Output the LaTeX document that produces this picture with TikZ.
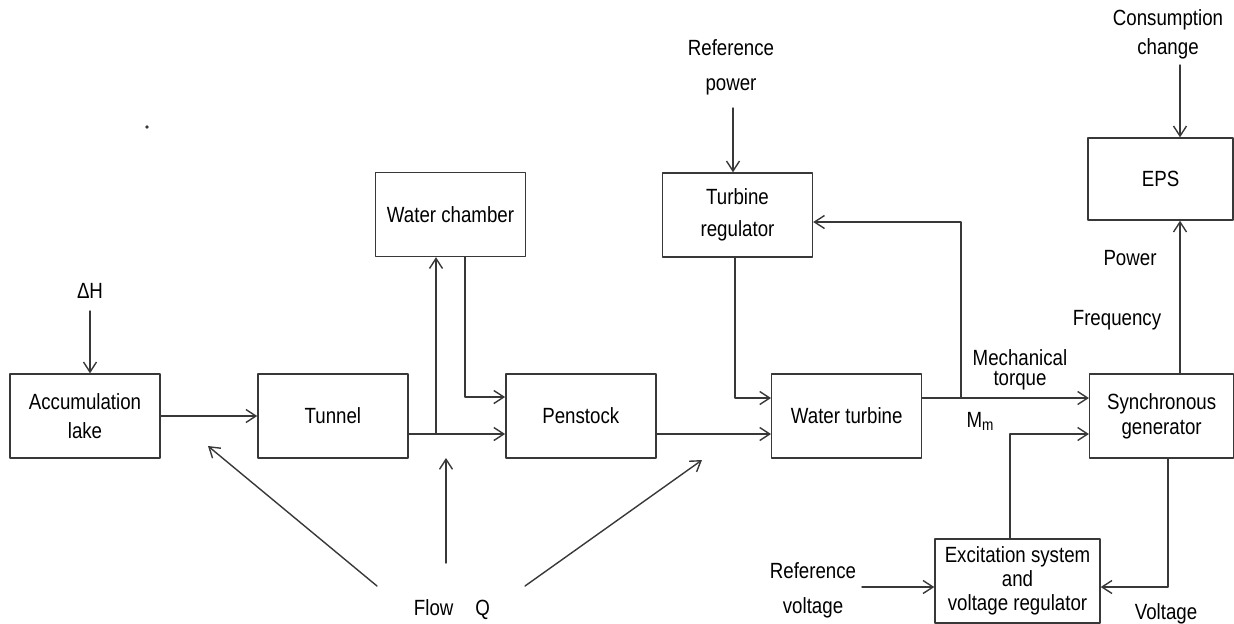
\documentclass[tikz,border=0pt]{standalone}
\usepackage{fontspec}
\setmainfont{Liberation Sans}[FakeStretch=0.85]
\usepackage{tikz}
\usetikzlibrary{arrows.meta,positioning,calc}
\definecolor{ink}{HTML}{383838}
\tikzset{
    every picture/.style={line cap=round,line join=round},
    blockbox/.style={draw=ink,line width=0.7pt,minimum width=75pt,minimum height=42pt,
      inner sep=2pt,align=center,text=black},
    inlabel/.style={align=center,inner sep=1pt,text=black},
    flowarrow/.style={-{Straight Barb[length=5pt,width=6.5pt]},draw=ink,line width=0.7pt}
}
\begin{document}
\begin{tikzpicture}[x=0.5pt,y=-0.5pt,font=\fontsize{11}{13.5}\selectfont]
  \useasboundingbox (0,0) rectangle (1234,623);
  % water path
  \node[blockbox,font=\fontsize{11}{14.5}\selectfont] (lake) at (85,416) {Accumulation\\lake};
  \node[blockbox,right=48.25pt of lake] (tunnel) {Tunnel};
  \node[blockbox,right=48.25pt of tunnel] (penstock) {Penstock};
  \node[blockbox,right=57.25pt of penstock] (turbine) {Water turbine};
  \node[blockbox,minimum width=72pt,right=83.25pt of turbine,font=\fontsize{11}{12.5}\selectfont] (gen) {Synchronous\\generator};
  \node[blockbox] (chamber) at (450.5,214.5) {Water chamber};
  \node[blockbox,font=\fontsize{11}{16}\selectfont] (regulator) at (737.5,215) {Turbine\\regulator};
  \node[blockbox,minimum width=72.5pt,minimum height=41pt] (eps) at (1160.5,179) {EPS};
  \node[blockbox,minimum width=82.5pt,font=\fontsize{11}{12}\selectfont] (excit) at (1017.5,581) {Excitation system\\and\\voltage regulator};

  % labels
  \node[inlabel] (dh) at (90,291) {ΔH};
  \node[inlabel,font=\fontsize{11}{17.5}\selectfont] (refpow) at (731,67) {Reference\\power};
  \node[inlabel,font=\fontsize{11}{14.5}\selectfont] (cons) at (1168,34) {Consumption\\change};
  \node[inlabel,font=\fontsize{11}{10}\selectfont] (torque) at (1020,370) {Mechanical\\torque};
  \node[inlabel] (mm) at (980,421) {M\raisebox{-1.5pt}{\fontsize{8}{8}\selectfont m}};
  \node[inlabel] (power) at (1130,258) {Power};
  \node[inlabel] (freq) at (1117,320) {Frequency};
  \node[inlabel,font=\fontsize{11}{17.5}\selectfont] (refvolt) at (813,590) {Reference\\voltage};
  \node[inlabel] (volt) at (1166,614) {Voltage};
  \node[inlabel] (flow) at (452,610) {Flow\quad Q};
  \fill[ink] (147,127) circle (0.9pt);

  % connectors
  \draw[flowarrow] ([yshift=-5pt]dh.south) -- (lake.north -| dh);
  \draw[flowarrow] (lake) -- (tunnel);
  \coordinate (tq) at ($(tunnel.east)+(0,18)$);
  \draw[flowarrow] (tq) -- (tq -| penstock.west);
  \coordinate (tb) at (436,434);
  \draw[flowarrow] (tb) -- (tb |- chamber.south);
  \draw[flowarrow] (465,0 |- chamber.south) |- (penstock.west |- 0,397);
  \draw[flowarrow] (penstock.east |- tq) -- (turbine.west |- tq);
  \coordinate (rp) at (733,108);
  \draw[flowarrow] (rp) -- (rp |- regulator.north);
  \draw[flowarrow] (735,0 |- regulator.south) |- (turbine.west |- 0,398);
  \coordinate (tm) at (turbine.east |- 0,398);
  \draw[flowarrow] (tm) -- (tm -| gen.west);
  \draw[flowarrow] (961,0 |- tm) |- (regulator.east |- 0,222);
  \draw[flowarrow] (1010,0 |- excit.north) |- (gen.west |- 0,434);
  \draw[flowarrow] (1168,0 |- gen.south) |- (excit.east |- 0,587);
  \coordinate (rv) at (862,587);
  \draw[flowarrow] (rv) -- (rv -| excit.west);
  \draw[flowarrow] (1180,0 |- gen.north) -- (1180,0 |- eps.south);
  \coordinate (cs) at (1180,65);
  \draw[flowarrow] (cs) -- (cs |- eps.north);

  % flow Q arrows
  \coordinate (f1) at (377,586); \coordinate (f1e) at (208,446);
  \coordinate (f2) at (446,563); \coordinate (f2e) at (446,458);
  \coordinate (f3) at (525,586); \coordinate (f3e) at (702,460);
  \draw[flowarrow] (f1) -- (f1e);
  \draw[flowarrow] (f2) -- (f2e);
  \draw[flowarrow] (f3) -- (f3e);
\end{tikzpicture}
\end{document}
